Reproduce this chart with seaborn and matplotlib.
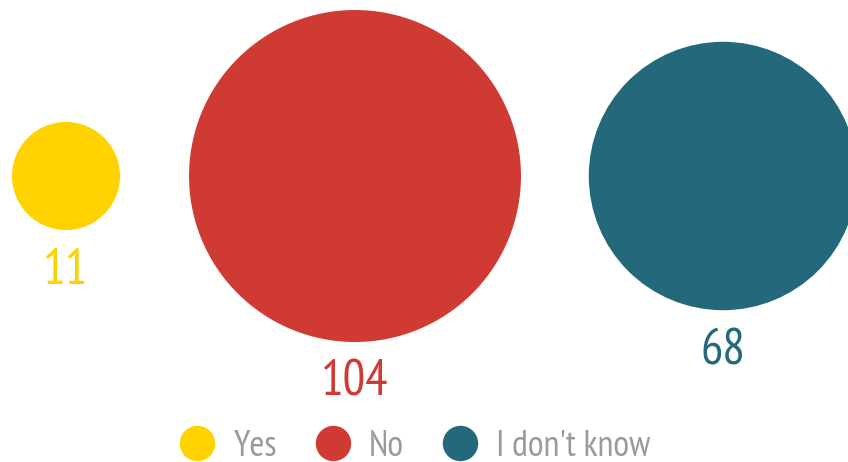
import matplotlib
matplotlib.use("Agg")
import matplotlib.pyplot as plt
from matplotlib import font_manager
from matplotlib.lines import Line2D
import seaborn as sns
import pandas as pd
import numpy as np

# Survey answers and their counts
answers = ["Yes", "No", "I don't know"]
counts = [11, 104, 68]
colors = ["#FFD200", "#CF3A32", "#24697B"]

sns.set_theme(style="white")
available = {f.name for f in font_manager.fontManager.ttflist}
family = [f for f in ["PT Sans Narrow", "Liberation Sans Narrow", "Roboto Condensed",
                      "Liberation Sans"] if f in available] + ["DejaVu Sans"]
plt.rcParams["font.family"] = family

W, H, DPI = 848, 462, 100
fig = plt.figure(figsize=(W / DPI, H / DPI), dpi=DPI)
ax = fig.add_axes([0, 0, 1, 1])

# Layout: bubble centres and the largest bubble's diameter (pixels)
centers_x = [66, 355, 723]
center_y = 176
max_diam_px = 332
max_s = (max_diam_px * 72 / DPI) ** 2   # scatter size is area in pt^2

df = pd.DataFrame({"answer": answers, "count": counts,
                   "x": centers_x, "y": [center_y] * len(answers)})
palette = dict(zip(answers, colors))

sns.scatterplot(data=df, x="x", y="y", hue="answer", palette=palette,
                size="count", sizes=(0, max_s), size_norm=(0, max(counts)),
                linewidth=0, legend=False, ax=ax, clip_on=False)

ax.set_xlim(0, W)
ax.set_ylim(H, 0)
ax.axis("off")

# Value labels below each bubble (bubble area is proportional to count)
for ans, n, x, c in zip(answers, counts, centers_x, colors):
    s = n / max(counts) * max_s
    r_px = np.sqrt(s) / 2 * DPI / 72
    ax.text(x, center_y + r_px + 54, f"{n}", color=c, fontsize=36,
            ha="center", va="baseline")

# Legend along the bottom edge
handles = [Line2D([0], [0], marker="o", linestyle="none", markersize=25.5,
                  markerfacecolor=c, markeredgewidth=0) for c in colors]
leg = fig.legend(handles, answers, ncol=3, loc="center",
                 bbox_to_anchor=(415 / W, 1 - 446 / H), frameon=False,
                 fontsize=26, handlelength=1.0, handletextpad=0.5,
                 columnspacing=1.05, borderpad=0, borderaxespad=0)
for t in leg.get_texts():
    t.set_color("#9a9a9a")

fig.savefig("out.png", dpi=DPI)
